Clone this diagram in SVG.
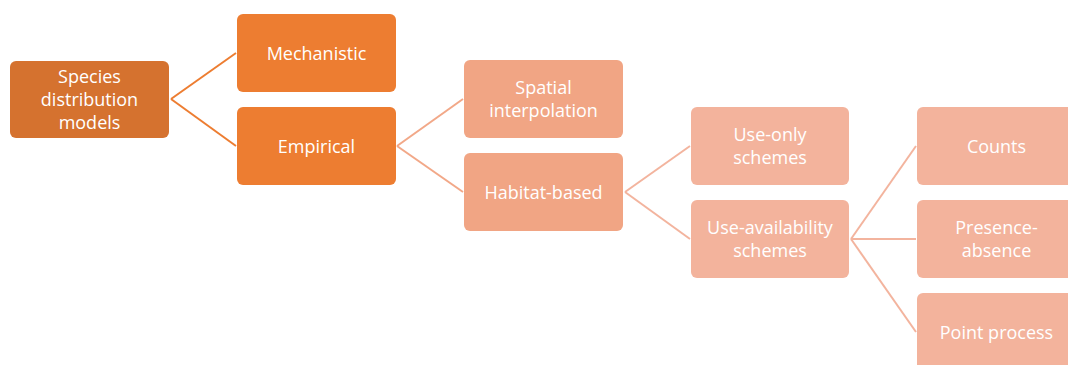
<svg xmlns="http://www.w3.org/2000/svg" width="1068" height="365" viewBox="0 0 1068 365">
<style>
.n rect{rx:6;ry:6}
.l0 rect{fill:#D5722F}
.l1 rect{fill:#ED7D31}
.l2 rect{fill:#F1A584}
.l3 rect{fill:#F3B39C}
text{font-family:"Open Sans","Liberation Sans",sans-serif;font-size:18px;fill:#FFFFFF;text-anchor:middle}
.c line{stroke-width:2;fill:none}
.c1 line{stroke:#ED7D31}
.c2 line{stroke:#F2A888}
.c3 line{stroke:#F3B49E}
</style>
<rect width="1068" height="365" fill="#FFFFFF"/>
<g id="connectors" class="c">
<g class="c1">
<line x1="171" y1="99" x2="236" y2="53"/>
<line x1="171" y1="99" x2="236" y2="146"/>
</g>
<g class="c2">
<line x1="397" y1="146" x2="463" y2="99"/>
<line x1="397" y1="146" x2="463" y2="192"/>
</g>
<g class="c3">
<line x1="625" y1="192" x2="690" y2="146"/>
<line x1="625" y1="192" x2="690" y2="239"/>
<line x1="851" y1="239" x2="916" y2="146"/>
<line x1="851" y1="239" x2="916" y2="239"/>
<line x1="851" y1="239" x2="916" y2="332"/>
</g>
</g>
<g id="species" class="n l0"><rect x="10" y="61" width="159" height="77"/>
<text x="89.5" y="83">Species</text><text x="89.5" y="106">distribution</text><text x="89.5" y="129">models</text></g>
<g id="mechanistic" class="n l1"><rect x="237" y="14" width="159" height="78"/>
<text x="316.5" y="60">Mechanistic</text></g>
<g id="empirical" class="n l1"><rect x="237" y="107" width="159" height="78"/>
<text x="316.5" y="153">Empirical</text></g>
<g id="spatial" class="n l2"><rect x="464" y="60" width="159" height="78"/>
<text x="543.5" y="94">Spatial</text><text x="543.5" y="117">interpolation</text></g>
<g id="habitat" class="n l2"><rect x="464" y="153" width="159" height="78"/>
<text x="543.5" y="199">Habitat-based</text></g>
<g id="useonly" class="n l3"><rect x="691" y="107" width="158" height="78"/>
<text x="770" y="141">Use-only</text><text x="770" y="164">schemes</text></g>
<g id="useavail" class="n l3"><rect x="691" y="200" width="158" height="78"/>
<text x="770" y="234">Use-availability</text><text x="770" y="257">schemes</text></g>
<g id="counts" class="n l3"><rect x="917" y="107" width="159" height="78"/>
<text x="996.5" y="153">Counts</text></g>
<g id="presence" class="n l3"><rect x="917" y="200" width="159" height="78"/>
<text x="996.5" y="234">Presence-</text><text x="996.5" y="257">absence</text></g>
<g id="point" class="n l3"><rect x="917" y="293" width="159" height="78"/>
<text x="996.5" y="339">Point process</text></g>
</svg>
